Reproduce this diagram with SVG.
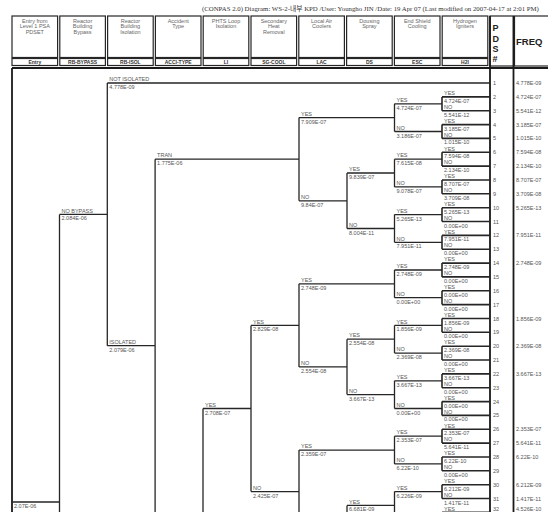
<svg xmlns="http://www.w3.org/2000/svg" width="548" height="512" viewBox="0 0 548 512">
<style>
.ln{fill:none;stroke:#262626;stroke-width:1.3}
.lf{fill:none;stroke:#262626;stroke-width:1.6}
.bd{fill:none;stroke:#1a1a1a;stroke-width:1.8}
.hc{fill:#fff;stroke:#262626;stroke-width:1.2}
.t{font-family:"Liberation Sans",Arial,sans-serif;font-size:5.5px;fill:#555}
.h{font-family:"Liberation Sans",Arial,sans-serif;font-size:5.5px;fill:#666;text-anchor:middle}
.hl{font-family:"Liberation Sans",Arial,sans-serif;font-size:5px;font-weight:bold;fill:#333;text-anchor:middle}
.big{font-family:"Liberation Sans",Arial,sans-serif;font-weight:bold;fill:#222}
</style>
<rect width="548" height="512" fill="#fff"/>
<text x="202" y="10.5" font-family="'Liberation Serif','Noto Sans CJK KR',serif" font-size="6.8" fill="#333">(CONPAS 2.0)  Diagram: WS-2-내부 KPD /User: Youngho JIN /Date: 19 Apr 07 (Last modified on 2007-04-17 at 2:01 PM)</text>

<g id="header">
<g id="h-entry"><rect class="hc" x="12" y="16" width="45.6" height="41.5"/><rect class="hc" x="12" y="58.5" width="45.6" height="7"/><text class="h" x="34.8" y="22.5">Entry from</text><text class="h" x="34.8" y="28">Level 1 PSA</text><text class="h" x="34.8" y="33.5">PDSET</text><text class="hl" x="34.8" y="63.7">Entry</text></g>
<g id="h-rbbypass"><rect class="hc" x="59.8" y="16" width="45.6" height="41.5"/><rect class="hc" x="59.8" y="58.5" width="45.6" height="7"/><text class="h" x="82.6" y="22.5">Reactor</text><text class="h" x="82.6" y="28">Building</text><text class="h" x="82.6" y="33.5">Bypass</text><text class="hl" x="82.6" y="63.7">RB-BYPASS</text></g>
<g id="h-rbisol"><rect class="hc" x="107.6" y="16" width="45.6" height="41.5"/><rect class="hc" x="107.6" y="58.5" width="45.6" height="7"/><text class="h" x="130.4" y="22.5">Reactor</text><text class="h" x="130.4" y="28">Building</text><text class="h" x="130.4" y="33.5">Isolation</text><text class="hl" x="130.4" y="63.7">RB-ISOL</text></g>
<g id="h-accitype"><rect class="hc" x="155.4" y="16" width="45.6" height="41.5"/><rect class="hc" x="155.4" y="58.5" width="45.6" height="7"/><text class="h" x="178.2" y="22.5">Accident</text><text class="h" x="178.2" y="28">Type</text><text class="hl" x="178.2" y="63.7">ACCI-TYPE</text></g>
<g id="h-li"><rect class="hc" x="203.2" y="16" width="45.6" height="41.5"/><rect class="hc" x="203.2" y="58.5" width="45.6" height="7"/><text class="h" x="226" y="22.5">PHTS Loop</text><text class="h" x="226" y="28">Isolation</text><text class="hl" x="226" y="63.7">LI</text></g>
<g id="h-sgcool"><rect class="hc" x="251" y="16" width="45.6" height="41.5"/><rect class="hc" x="251" y="58.5" width="45.6" height="7"/><text class="h" x="273.8" y="22.5">Secondary</text><text class="h" x="273.8" y="28">Heat</text><text class="h" x="273.8" y="33.5">Removal</text><text class="hl" x="273.8" y="63.7">SG-COOL</text></g>
<g id="h-lac"><rect class="hc" x="298.8" y="16" width="45.6" height="41.5"/><rect class="hc" x="298.8" y="58.5" width="45.6" height="7"/><text class="h" x="321.6" y="22.5">Local Air</text><text class="h" x="321.6" y="28">Coolers</text><text class="hl" x="321.6" y="63.7">LAC</text></g>
<g id="h-ds"><rect class="hc" x="346.6" y="16" width="45.6" height="41.5"/><rect class="hc" x="346.6" y="58.5" width="45.6" height="7"/><text class="h" x="369.4" y="22.5">Dousing</text><text class="h" x="369.4" y="28">Spray</text><text class="hl" x="369.4" y="63.7">DS</text></g>
<g id="h-esc"><rect class="hc" x="394.4" y="16" width="45.6" height="41.5"/><rect class="hc" x="394.4" y="58.5" width="45.6" height="7"/><text class="h" x="417.2" y="22.5">End Shield</text><text class="h" x="417.2" y="28">Cooling</text><text class="hl" x="417.2" y="63.7">ESC</text></g>
<g id="h-h2i"><rect class="hc" x="442.2" y="16" width="45.6" height="41.5"/><rect class="hc" x="442.2" y="58.5" width="45.6" height="7"/><text class="h" x="465" y="22.5">Hydrogen</text><text class="h" x="465" y="28">Igniters</text><text class="hl" x="465" y="63.7">H2I</text></g>
<g id="h-pds"><rect class="hc" x="490" y="16" width="23.5" height="50"/><text class="big" x="492.5" y="31" font-size="9">P</text><text class="big" x="492.5" y="41.5" font-size="9">D</text><text class="big" x="492.5" y="51.5" font-size="9">S</text><text class="big" x="492.5" y="62" font-size="9">#</text></g>
<g id="h-freq"><rect class="hc" x="514.5" y="16" width="40" height="50"/><text class="big" x="516" y="45" font-size="9.5">FREQ</text></g>
</g>

<g id="frame">
<path class="bd" d="M12 68H548M12 68V513M490 16V513M513.5 16V513"/>
</g>

<g id="connectors">
<path class="ln" d="M12 502H59.5M59.5 214.4V515M59.5 214.4H107.3M107.3 83V345.7M107.3 83H490M107.3 345.7H155.1M155.1 159.2V515M155.1 159.2H299
M299 117.6V200.8M299 117.6H394.5M394.5 103.8V131.5M394.5 103.8H442M394.5 131.5H442
M299 200.8H347M347 173V228.5M347 173H394.5M347 228.5H394.5
M394.5 159.2V186.9M394.5 159.2H442M394.5 186.9H442M394.5 214.6V242.3M394.5 214.6H442M394.5 242.3H442
M203 408.5V515M203 408.5H251M251 325.4V491.6M251 325.4H299M251 491.6H299
M299 283.8V366.9M299 283.8H394.5M394.5 270V297.7M394.5 270H442M394.5 297.7H442
M299 366.9H347M347 339.2V394.6M347 339.2H394.5M347 394.6H394.5
M394.5 325.4V353.1M394.5 325.4H442M394.5 353.1H442M394.5 380.8V408.5M394.5 380.8H442M394.5 408.5H442
M299 450.1V515M299 450.1H394.5M394.5 436.2V463.9M394.5 436.2H442M394.5 463.9H442
M347 505.4V515M347 505.4H394.5M394.5 491.6V515M394.5 491.6H442"/>
<path class="lf" d="M442 96.9V110.7M442 96.9H490M442 110.7H490M442 124.6V138.4M442 124.6H490M442 138.4H490
M442 152.3V166.1M442 152.3H490M442 166.1H490M442 180V193.8M442 180H490M442 193.8H490
M442 207.7V221.5M442 207.7H490M442 221.5H490M442 235.4V249.2M442 235.4H490M442 249.2H490
M442 263.1V276.9M442 263.1H490M442 276.9H490M442 290.8V304.6M442 290.8H490M442 304.6H490
M442 318.5V332.3M442 318.5H490M442 332.3H490M442 346.2V360M442 346.2H490M442 360H490
M442 373.9V387.7M442 373.9H490M442 387.7H490M442 401.6V415.4M442 401.6H490M442 415.4H490
M442 429.3V443.1M442 429.3H490M442 443.1H490M442 457V470.8M442 457H490M442 470.8H490
M442 484.7V498.5M442 484.7H490M442 498.5H490M442 512.4V515M442 512.4H490"/>
</g>

<g id="n-entry" class="t"><text x="14" y="508">2.07E-06</text></g>
<g id="n-nobypass" class="t"><text x="61.5" y="212.6">NO BYPASS</text><text x="61.5" y="220.4">2.084E-06</text></g>
<g id="n-notisolated" class="t"><text x="109.3" y="81.2">NOT ISOLATED</text><text x="109.3" y="89">4.778E-09</text></g>
<g id="n-isolated" class="t"><text x="109.3" y="343.9">ISOLATED</text><text x="109.3" y="351.7">2.079E-06</text></g>
<g id="n-tran" class="t"><text x="157.1" y="157.4">TRAN</text><text x="157.1" y="165.2">1.775E-06</text></g>
<g id="n-t-lac-yes" class="t"><text x="301" y="115.8">YES</text><text x="301" y="123.6">7.909E-07</text></g>
<g id="n-t-esc-1" class="t"><text x="396.5" y="102">YES</text><text x="396.5" y="109.8">4.724E-07</text><text x="396.5" y="129.7">NO</text><text x="396.5" y="137.5">3.186E-07</text></g>
<g id="n-t-lac-no" class="t"><text x="301" y="199">NO</text><text x="301" y="206.8">9.84E-07</text></g>
<g id="n-t-ds" class="t"><text x="349" y="171.2">YES</text><text x="349" y="179">9.839E-07</text><text x="349" y="226.7">NO</text><text x="349" y="234.5">8.004E-11</text></g>
<g id="n-t-esc-2" class="t"><text x="396.5" y="157.4">YES</text><text x="396.5" y="165.2">7.615E-08</text><text x="396.5" y="185.1">NO</text><text x="396.5" y="192.9">9.078E-07</text></g>
<g id="n-t-esc-3" class="t"><text x="396.5" y="212.8">YES</text><text x="396.5" y="220.6">5.265E-13</text><text x="396.5" y="240.5">NO</text><text x="396.5" y="248.3">7.951E-11</text></g>
<g id="n-li-yes" class="t"><text x="205" y="406.7">YES</text><text x="205" y="414.5">2.708E-07</text></g>
<g id="n-sg" class="t"><text x="253" y="323.6">YES</text><text x="253" y="331.4">2.829E-08</text><text x="253" y="489.8">NO</text><text x="253" y="497.6">2.425E-07</text></g>
<g id="n-l-lac-yes" class="t"><text x="301" y="282">YES</text><text x="301" y="289.8">2.748E-09</text></g>
<g id="n-l-esc-1" class="t"><text x="396.5" y="268.2">YES</text><text x="396.5" y="276">2.748E-09</text><text x="396.5" y="295.9">NO</text><text x="396.5" y="303.7">0.00E+00</text></g>
<g id="n-l-lac-no" class="t"><text x="301" y="365.1">NO</text><text x="301" y="372.9">2.554E-08</text></g>
<g id="n-l-ds" class="t"><text x="349" y="337.4">YES</text><text x="349" y="345.2">2.554E-08</text><text x="349" y="392.8">NO</text><text x="349" y="400.6">3.667E-13</text></g>
<g id="n-l-esc-2" class="t"><text x="396.5" y="323.6">YES</text><text x="396.5" y="331.4">1.856E-09</text><text x="396.5" y="351.3">NO</text><text x="396.5" y="359.1">2.369E-08</text></g>
<g id="n-l-esc-3" class="t"><text x="396.5" y="379">YES</text><text x="396.5" y="386.8">3.667E-13</text><text x="396.5" y="406.7">NO</text><text x="396.5" y="414.5">0.00E+00</text></g>
<g id="n-l2-lac-yes" class="t"><text x="301" y="448.3">YES</text><text x="301" y="456.1">2.359E-07</text></g>
<g id="n-l2-esc-1" class="t"><text x="396.5" y="434.4">YES</text><text x="396.5" y="442.2">2.353E-07</text><text x="396.5" y="462.1">NO</text><text x="396.5" y="469.9">6.22E-10</text></g>
<g id="n-l2-ds" class="t"><text x="349" y="503.6">YES</text><text x="349" y="511">6.681E-09</text></g>
<g id="n-l2-esc-2" class="t"><text x="396.5" y="489.8">YES</text><text x="396.5" y="497.6">6.226E-09</text></g>

<g id="leaves" class="t">
<text x="444" y="95.1">YES</text><text x="444" y="102.9">4.724E-07</text>
<text x="444" y="108.9">NO</text><text x="444" y="116.7">5.541E-12</text>
<text x="444" y="122.8">YES</text><text x="444" y="130.6">3.185E-07</text>
<text x="444" y="136.6">NO</text><text x="444" y="144.4">1.015E-10</text>
<text x="444" y="150.5">YES</text><text x="444" y="158.3">7.594E-08</text>
<text x="444" y="164.3">NO</text><text x="444" y="172.1">2.134E-10</text>
<text x="444" y="178.2">YES</text><text x="444" y="186">8.707E-07</text>
<text x="444" y="192">NO</text><text x="444" y="199.8">3.709E-08</text>
<text x="444" y="205.9">YES</text><text x="444" y="213.7">5.265E-13</text>
<text x="444" y="219.7">NO</text><text x="444" y="227.5">0.00E+00</text>
<text x="444" y="233.6">YES</text><text x="444" y="241.4">7.951E-11</text>
<text x="444" y="247.4">NO</text><text x="444" y="255.2">0.00E+00</text>
<text x="444" y="261.3">YES</text><text x="444" y="269.1">2.748E-09</text>
<text x="444" y="275.1">NO</text><text x="444" y="282.9">0.00E+00</text>
<text x="444" y="289">YES</text><text x="444" y="296.8">0.00E+00</text>
<text x="444" y="302.8">NO</text><text x="444" y="310.6">0.00E+00</text>
<text x="444" y="316.7">YES</text><text x="444" y="324.5">1.856E-09</text>
<text x="444" y="330.5">NO</text><text x="444" y="338.3">0.00E+00</text>
<text x="444" y="344.4">YES</text><text x="444" y="352.2">2.369E-08</text>
<text x="444" y="358.2">NO</text><text x="444" y="366">0.00E+00</text>
<text x="444" y="372.1">YES</text><text x="444" y="379.9">3.667E-13</text>
<text x="444" y="385.9">NO</text><text x="444" y="393.7">0.00E+00</text>
<text x="444" y="399.8">YES</text><text x="444" y="407.6">0.00E+00</text>
<text x="444" y="413.6">NO</text><text x="444" y="421.4">0.00E+00</text>
<text x="444" y="427.5">YES</text><text x="444" y="435.3">2.353E-07</text>
<text x="444" y="441.3">NO</text><text x="444" y="449.1">5.641E-11</text>
<text x="444" y="455.2">YES</text><text x="444" y="463">6.22E-10</text>
<text x="444" y="469">NO</text><text x="444" y="476.8">0.00E+00</text>
<text x="444" y="482.9">YES</text><text x="444" y="490.7">6.212E-09</text>
<text x="444" y="496.7">NO</text><text x="444" y="504.5">1.417E-11</text>
<text x="444" y="510.6">YES</text>
</g>

<g id="pds-numbers" class="t">
<text x="493" y="85">1</text><text x="493" y="98.9">2</text><text x="493" y="112.7">3</text><text x="493" y="126.6">4</text><text x="493" y="140.4">5</text><text x="493" y="154.3">6</text><text x="493" y="168.1">7</text><text x="493" y="182">8</text><text x="493" y="195.8">9</text><text x="493" y="209.7">10</text><text x="493" y="223.5">11</text><text x="493" y="237.4">12</text><text x="493" y="251.2">13</text><text x="493" y="265.1">14</text><text x="493" y="278.9">15</text><text x="493" y="292.8">16</text><text x="493" y="306.6">17</text><text x="493" y="320.5">18</text><text x="493" y="334.3">19</text><text x="493" y="348.2">20</text><text x="493" y="362">21</text><text x="493" y="375.9">22</text><text x="493" y="389.7">23</text><text x="493" y="403.6">24</text><text x="493" y="417.4">25</text><text x="493" y="431.3">26</text><text x="493" y="445.1">27</text><text x="493" y="459">28</text><text x="493" y="472.8">29</text><text x="493" y="486.7">30</text><text x="493" y="500.5">31</text><text x="493" y="511">32</text>
</g>

<g id="freq-values" class="t">
<text x="516" y="85">4.778E-09</text><text x="516" y="98.9">4.724E-07</text><text x="516" y="112.7">5.541E-12</text><text x="516" y="126.6">3.185E-07</text><text x="516" y="140.4">1.015E-10</text><text x="516" y="154.3">7.594E-08</text><text x="516" y="168.1">2.134E-10</text><text x="516" y="182">8.707E-07</text><text x="516" y="195.8">3.709E-08</text><text x="516" y="209.7">5.265E-13</text><text x="516" y="237.4">7.951E-11</text><text x="516" y="265.1">2.748E-09</text><text x="516" y="320.5">1.856E-09</text><text x="516" y="348.2">2.369E-08</text><text x="516" y="375.9">3.667E-13</text><text x="516" y="431.3">2.353E-07</text><text x="516" y="445.1">5.641E-11</text><text x="516" y="459">6.22E-10</text><text x="516" y="486.7">6.212E-09</text><text x="516" y="500.5">1.417E-11</text><text x="516" y="511">4.526E-10</text>
</g>
</svg>
